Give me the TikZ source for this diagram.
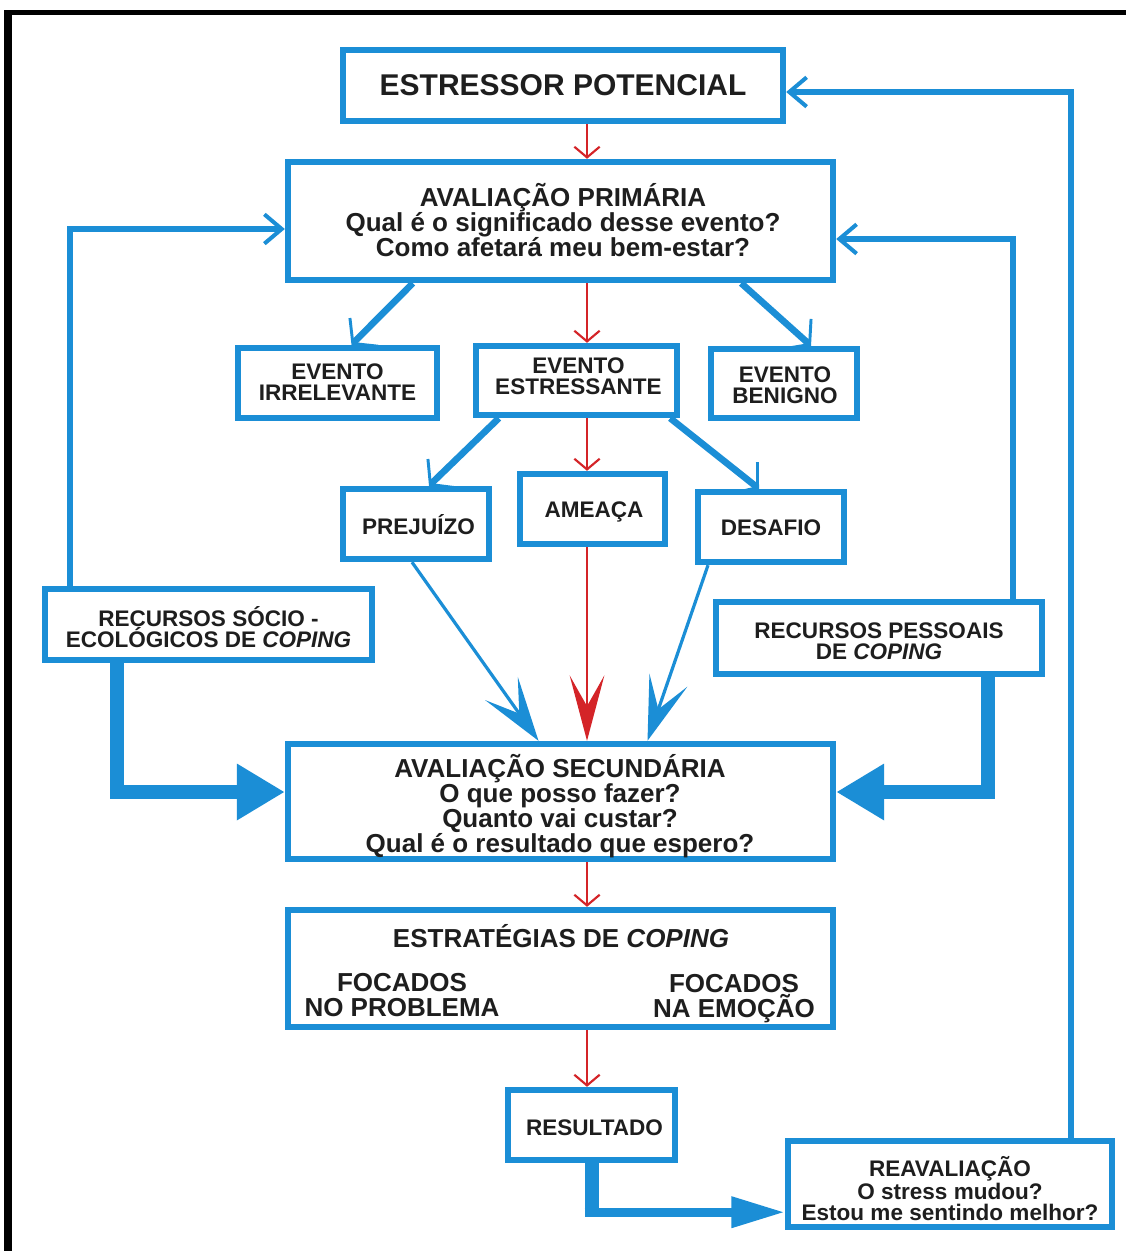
\documentclass[tikz,border=0pt]{standalone}
\usepackage{fontspec}
\setmainfont{Liberation Sans}
\usetikzlibrary{arrows.meta,calc}
\definecolor{bl}{RGB}{27,142,214}
\definecolor{rd}{RGB}{212,36,40}
\definecolor{tx}{RGB}{30,30,30}
\begin{document}
\begin{tikzpicture}[x=0.75pt,y=-0.75pt,
  box/.style 2 args={draw=bl, line width=4.8pt, fill=white, inner sep=0pt,
    minimum width={#1*0.75pt}, minimum height={#2*0.75pt}},
  bigtxt/.style={text=tx, align=center, inner sep=0pt, font=\bfseries\fontsize{19.5}{18.75}\selectfont},
  smalltxt/.style={text=tx, align=center, inner sep=0pt, font=\bfseries\fontsize{16.9}{15.75}\selectfont},
  titletxt/.style={text=tx, align=center, inner sep=0pt, font=\bfseries\fontsize{22.5}{22}\selectfont},
  redarr/.style={draw=rd, line width=1.6pt, -{Straight Barb[length=8pt,width=19pt]}},
  bigred/.style={draw=rd, line width=2.2pt, -{Stealth[length=49pt,width=26pt,inset=23pt]}},
  diag/.style={draw=bl, line width=5pt, -{Straight Barb[length=12pt,width=30pt,line width=2.2pt]}},
  thinbl/.style={draw=bl, line width=2.4pt, -{Stealth[length=48pt,width=30pt,inset=23pt]}},
  fb/.style={draw=bl, line width=4.5pt, -{Straight Barb[length=13pt,width=22pt,line width=3pt]}},
  fat/.style={draw=bl, line width=10.5pt, -{Triangle[length=36pt,width=40pt]}}
]
\useasboundingbox (0,0) rectangle (1126,1251);
\fill[white] (0,0) rectangle (1126,1251);
% frame
\draw[line width=4pt] (4,12.5) -- (1126,12.5);
\draw[line width=6pt] (8,10.5) -- (8,1251);

% boxes
\node[box={440}{71}]  (est)    at (563,85.5)   {};
\node[box={545}{118}] (prim)   at (560.5,221)  {};
\node[box={199}{70}]  (irr)    at (337.5,383)  {};
\node[box={201}{69}]  (estr)   at (576.5,380.5){};
\node[box={146}{69}]  (ben)    at (784,383.5)  {};
\node[box={146}{70}]  (prej)   at (416,524)    {};
\node[box={145}{70}]  (ame)    at (592.5,509)  {};
\node[box={146}{70}]  (des)    at (771,527)    {};
\node[box={327}{71}]  (socio)  at (208.5,624.5){};
\node[box={326}{72}]  (pess)   at (879,638)    {};
\node[box={545}{115}] (sec)    at (560.5,801.5){};
\node[box={545}{117}] (estrat) at (560.5,968.5){};
\node[box={167}{70}]  (res)    at (591.5,1125) {};
\node[box={324}{86}]  (reav)   at (950,1184)   {};

% texts
\node[titletxt] (est-t) at (563,85) {ESTRESSOR POTENCIAL};
\node[bigtxt] (prim-t) at (563,220.5) {AVALIAÇÃO PRIMÁRIA\\Qual é o significado desse evento?\\Como afetará meu bem-estar?};
\node[smalltxt] (irr-t) at (337.5,382.5) {EVENTO\\IRRELEVANTE};
\node[smalltxt] (estr-t) at (578.5,376) {EVENTO\\ESTRESSANTE};
\node[smalltxt] (ben-t) at (785,385.5) {EVENTO\\BENIGNO};
\node[smalltxt] (prej-t) at (418.5,525) {PREJUÍZO};
\node[smalltxt] (ame-t) at (594,512) {AMEAÇA};
\node[smalltxt] (des-t) at (771,528) {DESAFIO};
\node[smalltxt] (socio-t) at (208.5,627) {RECURSOS SÓCIO -\\ECOLÓGICOS DE \textit{COPING}};
\node[smalltxt] (pess-t) at (879,641.5) {RECURSOS PESSOAIS\\DE \textit{COPING}};
\node[bigtxt] (sec-t) at (560,806) {AVALIAÇÃO SECUNDÁRIA\\O que posso fazer?\\Quanto vai custar?\\Qual é o resultado que espero?};
\node[bigtxt] (estrat-t) at (561,936) {ESTRATÉGIAS DE \textit{COPING}};
\node[bigtxt] (prob-t) at (402,995.5) {FOCADOS\\NO PROBLEMA};
\node[bigtxt] (emo-t) at (734,998.5) {FOCADOS\\NA EMOÇÃO};
\node[smalltxt] (res-t) at (594.5,1128) {RESULTADO};
\node[smalltxt] (reav-t) at (950,1188.5) {REAVALIAÇÃO\\O stress mudou?\\Estou me sentindo melhor?};

% red vertical connectors
\coordinate (rx) at (587,0);
\draw[redarr] (est.south -| rx) -- (prim.north -| rx);
\draw[redarr] (prim.south -| rx) -- (estr.north -| rx);
\draw[redarr] (estr.south -| rx) -- (ame.north -| rx);
\draw[bigred] (ame.south -| rx) -- (sec.north -| rx);
\draw[redarr] (sec.south -| rx) -- (estrat.north -| rx);
\draw[redarr] (estrat.south -| rx) -- (res.north -| rx);

% blue diagonals
\draw[diag] ($(prim.south west)+(128,0)$) -- ($(irr.north)+(14,0)$);
\draw[diag] ($(prim.south east)+(-95,0)$) -- ($(ben.north)+(27,0)$);
\draw[diag] ($(estr.south west)+(26,0)$) -- ($(prej.north)+(13,0)$);
\draw[diag] ($(estr.south east)+(-10,0)$) -- ($(des.north)+(-12,0)$);

% thin blue to secondary
\draw[thinbl] ($(prej.south)+(-4,0)$) -- ($(sec.north)+(-22,0)$);
\draw[thinbl] ($(des.south)+(-63,0)$) -- ($(sec.north)+(87,0)$);

% feedback loops
\draw[fb] ($(socio.north)+(-138.5,0)$) |- ($(prim.west)+(0,8)$);
\draw[fb] ($(pess.north)+(134,0)$) |- ($(prim.east)+(0,18)$);
\draw[fb] ($(reav.north)+(121,0)$) |- ($(est.east)+(0,6.5)$);

% fat arrows
\draw[fat] ($(socio.south)+(-91.5,0)$) |- ($(sec.west)+(0,-9.5)$);
\draw[fat] ($(pess.south)+(109,0)$) |- ($(sec.east)+(0,-9.5)$);

% result to reevaluation
\coordinate (rcorner) at ($(res.south)+(0,49)$);
\draw[draw=bl, line width=10.5pt] (res.south) -- ($(rcorner)+(0,4.5)$);
\draw[draw=bl, line width=6.5pt, -{Triangle[length=40pt,width=22pt]}] ($(rcorner)+(-7,0)$) -- (rcorner -| reav.west);
\end{tikzpicture}
\end{document}
